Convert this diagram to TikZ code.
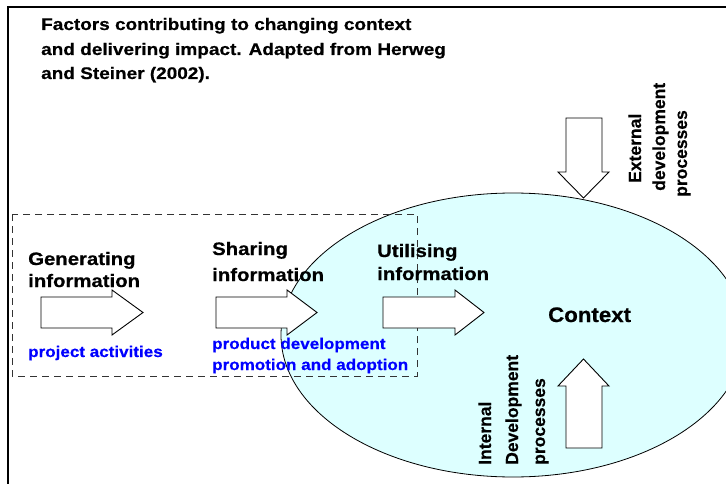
\documentclass[tikz,border=0pt]{standalone}
\usepackage{fontspec}
\setmainfont{Liberation Sans}
\newfontfamily\widefont[FakeStretch=1.13, BoldFeatures={FakeBold=0.6}]{Liberation Sans}
\newfontfamily\bluefont[FakeStretch=1.10, BoldFeatures={FakeBold=0.5}]{Liberation Sans}
\newfontfamily\ctxfont[FakeStretch=1.06, BoldFeatures={FakeBold=0.5}]{Liberation Sans}
\newfontfamily\vfont[BoldFeatures={FakeBold=0.4}]{Liberation Sans}
\definecolor{ctxcyan}{RGB}{221,255,255}
\definecolor{lblblue}{RGB}{0,0,255}
\tikzset{
  blockarrow/.style={draw=black, fill=white, line width=0.9pt, line join=miter},
  ttl/.style={anchor=base west, inner sep=0pt, font=\widefont\bfseries\fontsize{16.8}{20}\selectfont},
  stage/.style={anchor=base west, inner sep=0pt, font=\widefont\bfseries\fontsize{18}{21}\selectfont},
  bluelbl/.style={anchor=base west, inner sep=0pt, text=lblblue, font=\bluefont\bfseries\fontsize{15.5}{18}\selectfont},
  vlbl/.style={anchor=base west, inner sep=0pt, rotate=90, font=\vfont\bfseries\fontsize{17.5}{20}\selectfont},
}
\begin{document}
\begin{tikzpicture}[x=1pt,y=-1pt]
\useasboundingbox (0,0) rectangle (726,484);
\clip (0,0) rectangle (726,484);
% context ellipse
\draw[fill=ctxcyan, line width=0.8pt] (513,335) ellipse [x radius=232pt, y radius=142pt];
% frame
\draw[line width=2pt] (726,7) -- (8,7) -- (8,484);
% dashed box
\draw[dash pattern=on 7pt off 5pt, line width=0.8pt, draw=black!80] (12,214) rectangle (417,376);
% right arrows
\draw[blockarrow] (41,297) -- (112,297) -- (112,290) -- (143,312.5) -- (112,335) -- (112,328) -- (41,328) -- cycle;
\draw[blockarrow] (216,297) -- (287,297) -- (287,290) -- (317,312.5) -- (287,335) -- (287,328) -- (216,328) -- cycle;
\draw[blockarrow] (383,297) -- (455,297) -- (455,290) -- (484,312.5) -- (455,335) -- (455,328) -- (383,328) -- cycle;
% external (down) arrow
\draw[blockarrow] (566,118) -- (602,118) -- (602,172) -- (609,172) -- (583.5,198) -- (558,172) -- (566,172) -- cycle;
% internal (up) arrow
\draw[blockarrow] (566,448) -- (602,448) -- (602,386) -- (609,386) -- (583.5,359) -- (558,386) -- (566,386) -- cycle;
% title
\node[ttl] (t1) at (41,30) {Factors contributing to changing context};
\node[ttl] (t2) at (41,55) {and delivering impact. Adapted from Herweg};
\node[ttl] (t3) at (41,79) {and Steiner (2002).};
% stages
\node[stage] (g1) at (28,265) {Generating};
\node[stage] (g2) at (28,287) {information};
\node[stage] (s1) at (212,255) {Sharing};
\node[stage] (s2) at (212,281) {information};
\node[stage] (u1) at (377,257) {Utilising};
\node[stage] (u2) at (377,280) {information};
% blue labels
\node[bluelbl] (b1) at (28,357) {project activities};
\node[bluelbl] (b2) at (212,349) {product development};
\node[bluelbl] (b3) at (212,370) {promotion and adoption};
% context
\node[anchor=base west, inner sep=0pt, font=\ctxfont\bfseries\fontsize{21}{24}\selectfont] (ctx) at (548,322) {Context};
% external labels
\node[vlbl] (e1) at (641,183) {External};
\node[vlbl] (e2) at (665,191) {development};
\node[vlbl] (e3) at (687,197) {processes};
% internal labels
\node[vlbl] (i1) at (491,465) {Internal};
\node[vlbl] (i2) at (518,465) {Development};
\node[vlbl] (i3) at (545,465) {processes};
\end{tikzpicture}
\end{document}
